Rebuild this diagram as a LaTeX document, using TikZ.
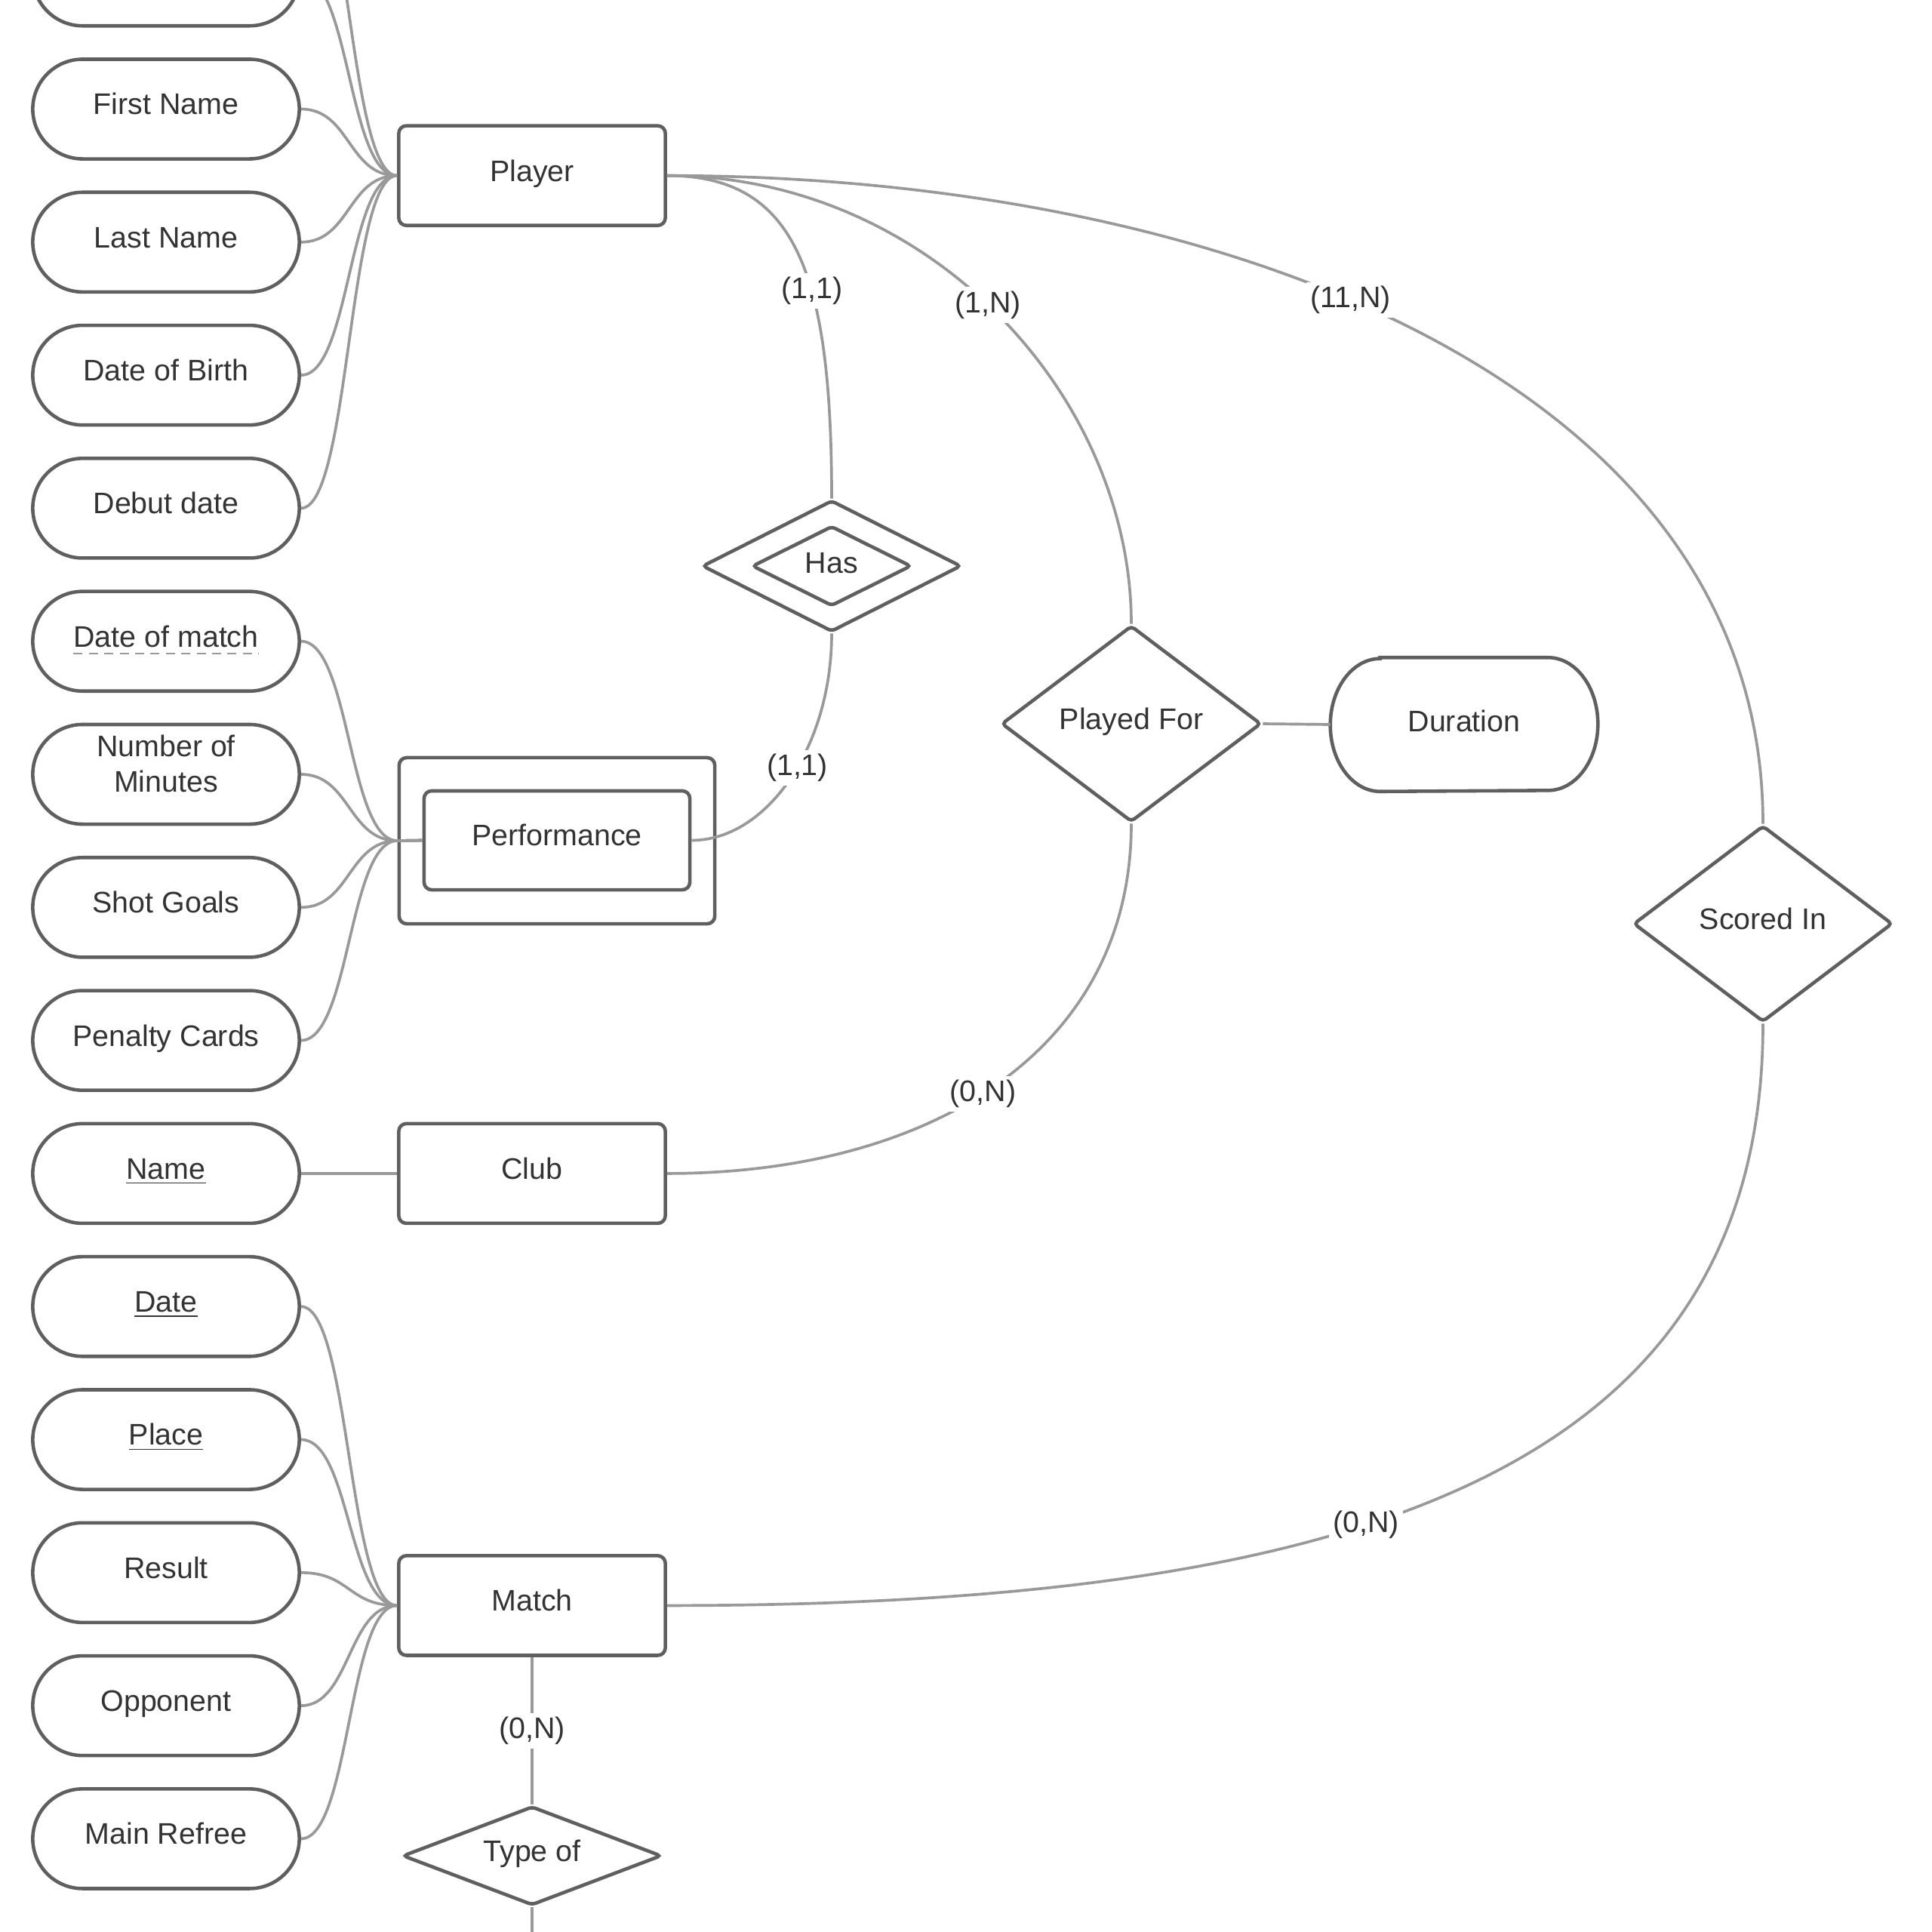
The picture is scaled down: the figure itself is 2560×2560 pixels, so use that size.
\documentclass[tikz,border=0pt]{standalone}
\usepackage{fontspec}
\setmainfont{Liberation Sans}
\usetikzlibrary{shapes.geometric}
\definecolor{bordergray}{HTML}{5F5F5F}
\definecolor{linegray}{HTML}{999999}
\definecolor{textgray}{HTML}{333333}
\newcommand\mydashul[1]{\tikz[baseline=(t.base)]{\node[inner sep=0pt,outer sep=0pt,draw=none,fill=none,minimum width=0pt,minimum height=0pt,text height=,text depth=](t){#1};\draw[linegray,line width=0.7pt,dash pattern=on 3.4pt off 2.4pt] ([yshift=-2.6pt]t.base west) -- ([yshift=-2.6pt]t.base east);}}
\begin{document}
\begin{tikzpicture}[x=0.01cm,y=-0.01cm,
  every node/.style={font=\fontsize{11.2}{13.4}\selectfont, text=textgray},
  txt/.style={text height=8.2pt, text depth=4pt},
  attr/.style={txt, draw=bordergray, line width=1.3pt, fill=white, minimum width=3.53cm, minimum height=1.32cm, rounded corners=0.66cm, inner sep=0pt, align=center},
  entity/.style={txt, draw=bordergray, line width=1.3pt, fill=white, minimum width=3.53cm, minimum height=1.32cm, rounded corners=0.1cm, inner sep=0pt},
  rel/.style={txt, diamond, aspect=2, draw=bordergray, line width=1.3pt, fill=white, inner sep=0pt, rounded corners=0.05cm},
  conn/.style={draw=linegray, line width=1.05pt},
  card/.style={fill=white, inner sep=1.5pt}
]
\fill[white] (0,0) rectangle (2560,2560);
\useasboundingbox (0,0) rectangle (2560,2560);

% attributes
\node[attr] (a0) at (220,-31.8) {};
\coordinate (am1) at (397,-208);
\node[attr] (fn) at (220,144.5) {First Name};
\node[attr] (ln) at (220,320.8) {Last Name};
\node[attr] (dob) at (220,497.1) {Date of Birth};
\node[attr] (dd) at (220,673.4) {Debut date};
\node[attr] (dom) at (220,849.7) {\mydashul{Date of match}};
\node[attr, text height=, text depth=] (nom) at (220,1026) {\raisebox{0pt}[10pt][10pt]{\begin{tabular}{@{}c@{}}Number of\\Minutes\end{tabular}}};
\node[attr] (sg) at (220,1202.3) {Shot Goals};
\node[attr] (pc) at (220,1378.6) {Penalty Cards};
\node[attr] (nm) at (220,1554.9) {\underline{Name}};
\node[attr] (dt) at (220,1731.2) {\underline{Date}};
\node[attr] (pl) at (220,1907.5) {\underline{Place}};
\node[attr] (rs) at (220,2083.8) {Result};
\node[attr] (op) at (220,2260.1) {Opponent};
\node[attr] (mr) at (220,2436.4) {Main Refree};

% entities
\node[entity] (player) at (705,232.7) {Player};
\node[entity, minimum width=4.18cm, minimum height=2.2cm] (perfo) at (738,1114) {};
\node[entity, minimum width=3.52cm, minimum height=1.31cm] (perf) at (738,1113.5) {Performance};
\node[entity] (club) at (705,1554.9) {Club};
\node[entity] (match) at (705,2127.4) {Match};

% relationships
\node[rel, minimum width=3.43cm, minimum height=1.74cm] (haso) at (1102,750) {};
\node[rel, text depth=2.6pt, minimum width=2.11cm, minimum height=1.06cm] (has) at (1102,750) {Has};
\node[rel, minimum width=3.44cm, minimum height=2.6cm] (pf) at (1499,959) {Played For};
\node[rel, minimum width=3.43cm, minimum height=2.6cm] (si) at (2336,1224) {Scored In};
\node[rel, minimum width=3.43cm, minimum height=1.31cm] (to) at (705,2459) {Type of};

% duration attribute (elliptic caps)
\node[text height=8.2pt, text depth=2.6pt, minimum width=3.53cm, minimum height=1.76cm, inner sep=0pt] (dur) at (1940,960) {Duration};
\draw[bordergray, line width=1.3pt] ([xshift=0.66cm]dur.north west) -- ([xshift=-0.66cm]dur.north east)
  arc[start angle=90, end angle=-90, x radius=0.66cm, y radius=0.88cm]
  -- ([xshift=0.66cm]dur.south west)
  arc[start angle=270, end angle=90, x radius=0.66cm, y radius=0.88cm] -- cycle;

% attribute connectors
\draw[conn] (am1) .. controls +(65,0) and +(-65,0) .. (player.west);
\foreach \n in {a0,fn,ln,dob,dd}
  \draw[conn] (\n.east) .. controls +(65,0) and +(-65,0) .. (player.west);
\foreach \n in {dom,nom,sg,pc}
  \draw[conn] (\n.east) .. controls +(65,0) and +(-65,0) .. (perfo.west) -- (perf.west);
\draw[conn] (nm.east) -- (club.west);
\foreach \n in {dt,pl,rs,op,mr}
  \draw[conn] (\n.east) .. controls +(65,0) and +(-65,0) .. (match.west);

% relationship connectors
\draw[conn] (player.east) .. controls +(170,0) and +(0,-300) .. node[card,pos=0.61]{(1,1)} (haso.north);
\draw[conn] (haso.south) .. controls +(0,150) and +(100,0) .. node[card,pos=0.45]{(1,1)} (perf.east);
\draw[conn] (player.east) .. controls +(350,0) and +(0,-300) .. node[card,pos=0.48]{(1,N)} (pf.north);
\draw[conn] (player.east) .. controls +(718,0) and +(0,-594) .. node[card,pos=0.447]{(11,N)} (si.north);
\draw[conn] (pf.south) .. controls +(0,300) and +(350,0) .. node[card,pos=0.53]{(0,N)} (club.east);
\draw[conn] (pf.east) -- (dur.west);
\draw[conn] (si.south) .. controls +(0,600) and +(900,0) .. node[card,pos=0.585]{(0,N)} (match.east);
\draw[conn] (match.south) -- node[card]{(0,N)} (to.north);
\coordinate (tobot) at (705,2600);
\draw[conn] (to.south) -- (tobot);
\end{tikzpicture}
\end{document}
